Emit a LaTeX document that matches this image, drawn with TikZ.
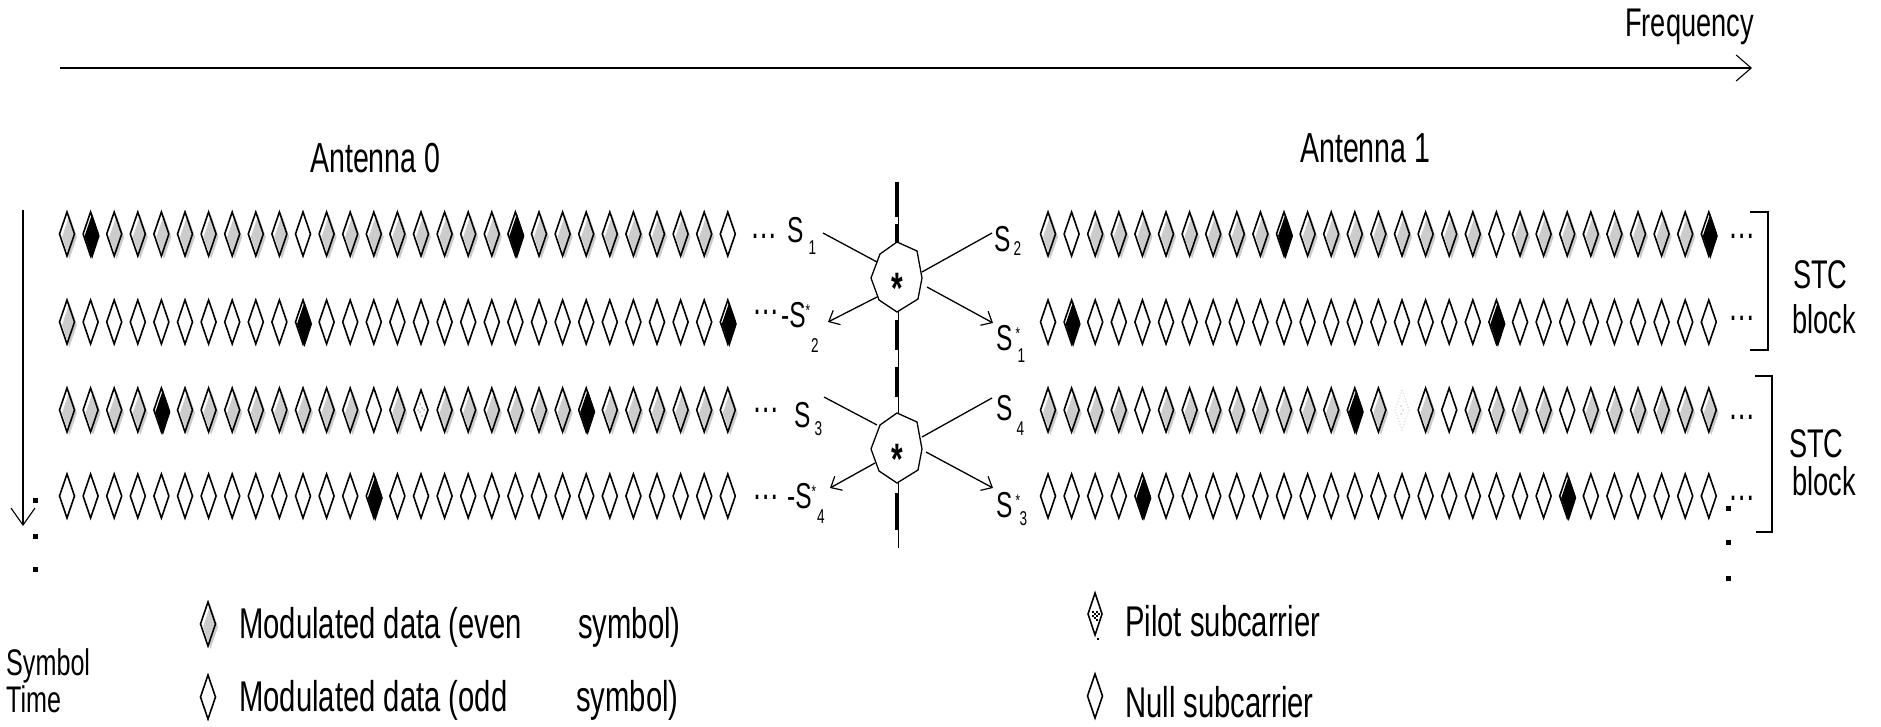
\documentclass[tikz,border=0pt]{standalone}
\usepackage{fontspec}
\setmainfont{Liberation Sans}[FakeStretch=0.68]
\usetikzlibrary{arrows.meta}
\newcommand\fsz[1]{\fontsize{#1pt}{#1pt}\selectfont}
\colorlet{lgray}{gray!40}
% one subcarrier: 0 null/odd, 1 even data, 2 black, 3 pilot, 4 faint pilot
\newcommand\subcar[3]{%
  \begin{scope}[shift={(#2,#3)}]
  \ifcase#1
    \draw[dline] (0,-22)--(7.5,0)--(0,22)--(-7.5,0)--cycle;
  \or
    \fill[lgray] (2.5,-19)--(10,3)--(2.5,25)--(-5,3)--cycle;
    \draw[dline] (0,-22)--(7.5,0)--(0,22)--(-7.5,0)--cycle;
  \or
    \fill (1.5,-20)--(9,2)--(1.5,25)--(-6,2)--cycle;
    \draw[dline] (0,-22)--(7.5,0)--(0,22)--(-7.5,0)--cycle;
  \or
    \draw[dline] (0,-20)--(7,0)--(0,20)--(-7,0)--cycle;
    \foreach \d in {(-1,-6),(1,-2),(-1,2),(1,6),(-3,0),(3,0)} \fill[gray!60] \d circle (1);
  \or
    \draw[gray!35, line width=1pt, dotted] (0,-20)--(7,0)--(0,20)--(-7,0)--cycle;
    \foreach \d in {(-1,-4),(1,0),(-1,4)} \fill[gray!40] \d circle (1);
  \fi
  \end{scope}}
\begin{document}
\begin{tikzpicture}[x=1pt,y=-1pt,
  dline/.style={line width=1.6pt, line join=miter},
  txt/.style={inner sep=0pt, font=\fsz{42}},
  lgd/.style={inner sep=0pt, font=\fsz{43}, anchor=base west},
  lab/.style={inner sep=0pt, font=\fsz{36}, anchor=base west},
  dots/.style={inner sep=0pt, font=\fsz{40}, anchor=base west},
  conn/.style={line width=1.3pt},
  carrow/.style={conn, -{Straight Barb[length=9pt,width=16pt,line width=1.2pt]}},
  octo/.style={line width=1.3pt, fill=white},
  brace/.style={line width=1.3pt},
  sq/.style={fill=black}]
\useasboundingbox (0,0) rectangle (1881,727);

% frequency axis
\coordinate (fa) at (60,68);
\coordinate (fb) at (1752,68);
\draw[line width=2pt, -{Straight Barb[length=15pt,width=26pt,line width=1.1pt]}] (fa) -- (fb);
\node[txt, font=\fsz{40}, anchor=base west] (freq) at (1625,37) {Frequency};

% symbol time axis
\coordinate (ta) at (23,210);
\coordinate (tb) at (23,526);
\draw[line width=1.1pt, -{Straight Barb[length=17pt,width=24pt,line width=1.1pt]}] (ta) -- (tb);
\foreach \yy in {500,536,569} \fill[sq] (33,\yy-2.5) rectangle (37.5,\yy+2.5);
\foreach \yy in {508,542,578} \fill[sq] (1726,\yy-2.5) rectangle (1730.5,\yy+2.5);

\node[txt, anchor=base west] (ant0) at (310,173) {Antenna 0};
\node[txt, anchor=base west] (ant1) at (1300,163) {Antenna 1};

% antenna 0 rows
\foreach \t [count=\i from 0] in {1,2,1,1,1,1,1,1,1,1,0,1,1,1,1,1,1,1,1,2,1,1,1,1,1,1,1,1,0}
  {\subcar{\t}{67+23.6*\i}{234}}
\foreach \t [count=\i from 0] in {1,0,0,0,0,0,0,0,0,0,2,0,0,0,0,0,0,0,0,0,0,0,0,0,0,0,0,0,2}
  {\subcar{\t}{67+23.6*\i}{322}}
\foreach \t [count=\i from 0] in {1,1,1,1,2,1,1,1,1,1,1,1,1,0,1,3,1,1,1,1,1,1,2,1,1,1,1,1,1}
  {\subcar{\t}{67+23.6*\i}{410}}
\foreach \t [count=\i from 0] in {0,0,0,0,0,0,0,0,0,0,0,0,0,2,0,0,0,0,0,0,0,0,0,0,0,0,0,0,0}
  {\subcar{\t}{67+23.6*\i}{496}}

% antenna 1 rows
\foreach \t [count=\i from 0] in {1,0,1,1,1,1,1,1,1,1,2,1,1,1,1,1,1,1,1,0,1,1,1,1,1,1,1,1,2}
  {\subcar{\t}{1048+23.6*\i}{234}}
\foreach \t [count=\i from 0] in {0,2,0,0,0,0,0,0,0,0,0,0,0,0,0,0,0,0,0,2,0,0,0,0,0,0,0,0,0}
  {\subcar{\t}{1048+23.6*\i}{322}}
\foreach \t [count=\i from 0] in {1,1,1,1,0,1,1,1,1,1,1,1,1,2,1,4,1,0,1,1,1,1,0,1,1,1,1,1,1}
  {\subcar{\t}{1048+23.6*\i}{410}}
\foreach \t [count=\i from 0] in {0,0,0,0,2,0,0,0,0,0,0,0,0,0,0,0,0,0,0,0,0,0,2,0,0,0,0,0,0}
  {\subcar{\t}{1048+23.6*\i}{496}}

% continuation dots
\node[dots] (e1) at (750,239) {…};
\node[dots] (e2) at (752,314) {…};
\node[dots] (e3) at (752,412) {…};
\node[dots] (e4) at (752,499) {…};
\node[dots] (f1) at (1728,239) {…};
\node[dots] (f2) at (1728,320) {…};
\node[dots] (f3) at (1728,419) {…};
\node[dots] (f4) at (1728,500) {…};

% symbol labels
\node[lab] (s1) at (787,243) {S\hspace{5pt}\raisebox{-12pt}{\fsz{20}1}};
\node[lab] (ms2) at (781,327) {-S\raisebox{11pt}{\fsz{17}*}\hspace{1pt}\raisebox{-25pt}{\fsz{20}2}};
\node[lab] (s2) at (994,252) {S\hspace{3pt}\raisebox{-3pt}{\fsz{20}2}};
\node[lab] (cs1) at (996,350) {S\hspace{3pt}\rlap{\raisebox{11pt}{\fsz{17}*}}\hspace{2pt}\raisebox{-12pt}{\fsz{20}1}};
\node[lab] (s3) at (794,427) {S\hspace{4pt}\raisebox{-8pt}{\fsz{20}3}};
\node[lab] (ms4) at (787,508) {-S\raisebox{11pt}{\fsz{17}*}\hspace{1pt}\raisebox{-15pt}{\fsz{20}4}};
\node[lab] (s4) at (996,420) {S\hspace{4pt}\raisebox{-15pt}{\fsz{20}4}};
\node[lab] (cs3) at (996,517) {S\hspace{3pt}\rlap{\raisebox{11pt}{\fsz{17}*}}\hspace{4pt}\raisebox{-8pt}{\fsz{20}3}};

% antenna divider: thin rule with heavy dashes
\coordinate (da) at (898,182);
\coordinate (db) at (898,548);
\draw[line width=0.8pt] (da) -- (db);
\foreach \a/\b in {182/217,224/244,320/350,367/397,493/530}
  \draw[line width=4pt] (897,\a) -- (897,\b);

% conjugation crossings
\coordinate (c1) at (897,278);
\coordinate (c2) at (897,449);
\foreach \c/\n in {c1/x1,c2/x2}{
  \draw[octo] (\c) ++(0,-36) -- ++(20,9) -- ++(5,27) -- ++(-4,21) -- ++(-21,13)
    -- ++(-18,-12) -- ++(-8,-22) -- ++(9,-24) -- cycle;
  \node[inner sep=0pt, font=\fsz{44}\bfseries, anchor=base] (\n) at ([yshift=-25pt]\c) {*};
}
\coordinate (p1) at (823,233); \coordinate (q1) at (877,262);
\coordinate (p2) at (922,272); \coordinate (q2) at (992,233);
\coordinate (p3) at (877,297); \coordinate (q3) at (828,322);
\coordinate (p4) at (927,287); \coordinate (q4) at (993,323);
\draw[conn] (p1) -- (q1);
\draw[conn] (p2) -- (q2);
\draw[carrow] (p3) -- (q3);
\draw[carrow] (p4) -- (q4);
\coordinate (r1) at (824,397); \coordinate (u1) at (877,425);
\coordinate (r2) at (922,437); \coordinate (u2) at (992,398);
\coordinate (r3) at (875,463); \coordinate (u3) at (830,488);
\coordinate (r4) at (926,452); \coordinate (u4) at (993,488);
\draw[conn] (r1) -- (u1);
\draw[conn] (r2) -- (u2);
\draw[carrow] (r3) -- (u3);
\draw[carrow] (r4) -- (u4);

% STC block brackets
\draw[brace] (1750,212) -- (1768,212) -- (1768,350) -- (1750,350);
\draw[brace] (1755,376) -- (1772,376) -- (1772,532) -- (1756,532);
\node[txt, font=\fsz{40}, anchor=base west] (stc1) at (1793,288) {STC};
\node[txt, font=\fsz{40}, anchor=base west] (blk1) at (1792,333) {block};
\node[txt, font=\fsz{40}, anchor=base west] (stc2) at (1789,457) {STC};
\node[txt, font=\fsz{40}, anchor=base west] (blk2) at (1792,495) {block};

% legend
\node[txt, font=\fsz{37}, anchor=base west] (sym) at (6,675) {Symbol};
\node[txt, font=\fsz{37}, anchor=base west] (tim) at (6,712) {Time};

\subcar{1}{208}{624}
\subcar{0}{208}{697}
\node[lgd] (leven) at (239,638) {Modulated data (even};
\node[lgd] (leven2) at (578,638) {symbol)};
\node[lgd] (lodd) at (239,711) {Modulated data (odd};
\node[lgd] (lodd2) at (576,711) {symbol)};

\begin{scope}[shift={(1095,614)}]
  \draw[dline] (0,-21)--(7,0)--(0,21)--(-7,0)--cycle;
  \foreach \d in {(-3,-3),(1,-3),(-1,-1),(3,-1),(-3,1),(1,1),(-1,3),(1,5)}
    \fill[sq] \d rectangle ++(2,2);
  \fill[sq] (2,24) rectangle ++(1.5,2);
\end{scope}
\subcar{0}{1095}{696}
\node[lgd] (lpil) at (1125,636) {Pilot subcarrier};
\node[lgd] (lnul) at (1125,717) {Null subcarrier};
\end{tikzpicture}
\end{document}
